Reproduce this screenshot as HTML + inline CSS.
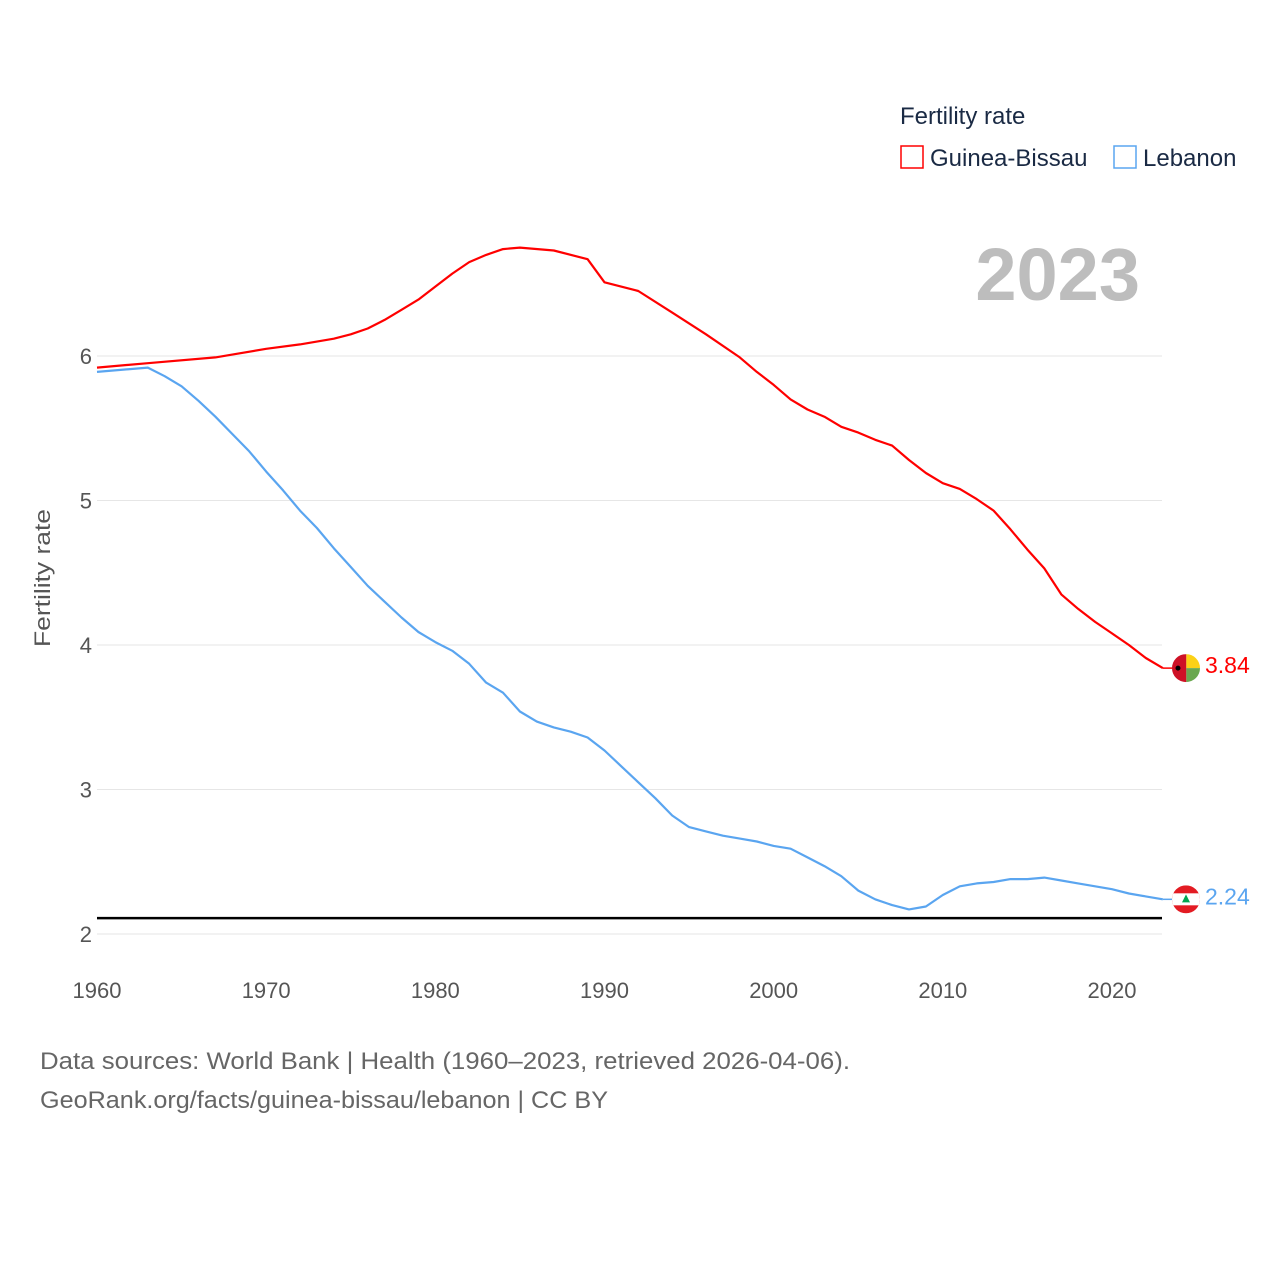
<!DOCTYPE html>
<html><head><meta charset="utf-8"><style>
html,body{margin:0;padding:0;background:#fff;width:1280px;height:1280px;overflow:hidden;font-family:"Liberation Sans",sans-serif}
</style></head><body>
<svg id="chart" width="1280" height="1280" xmlns="http://www.w3.org/2000/svg" font-family="Liberation Sans, sans-serif">
<g id="grid"></g>
<g id="yticks"></g>
<g id="xticks"></g>
<text transform="translate(50,578) rotate(-90)" text-anchor="middle" font-size="22" fill="#555" textLength="138" lengthAdjust="spacingAndGlyphs">Fertility rate</text>
<text x="1140" y="300" text-anchor="end" font-size="74" font-weight="bold" fill="#bdbdbd">2023</text>
<g>
<text x="900" y="124" font-size="24" fill="#1a2a44">Fertility rate</text>
<g><rect x="901" y="146" width="22" height="22" fill="none" stroke="#f00" stroke-width="1.5"/><text x="930" y="166" font-size="24" fill="#1a2a44">Guinea-Bissau</text></g>
<g><rect x="1114" y="146" width="22" height="22" fill="none" stroke="#5aa5f0" stroke-width="1.5"/><text x="1143" y="166" font-size="24" fill="#1a2a44">Lebanon</text></g>
</g>
<line id="refline" stroke="#000" stroke-width="2.5"/>
<g id="series"></g>
<g id="ends"></g>
<text x="40" y="1069" font-size="24" fill="#666" textLength="810" lengthAdjust="spacingAndGlyphs">Data sources: World Bank | Health (1960–2023, retrieved 2026-04-06).</text>
<text x="40" y="1108" font-size="24" fill="#666" textLength="568" lengthAdjust="spacingAndGlyphs">GeoRank.org/facts/guinea-bissau/lebanon | CC BY</text>
</svg>
<script>
const gbYears=[1960,1963,1967,1968,1970,1972,1974,1975,1976,1977,1978,1979,1980,1981,1982,1983,1984,1985,1987,1989,1990,1992,1994,1996,1998,1999,2000,2001,2002,2003,2004,2005,2006,2007,2008,2009,2010,2011,2012,2013,2014,2015,2016,2017,2018,2019,2020,2021,2022,2023];
const gbValues=[5.92,5.95,5.99,6.01,6.05,6.08,6.12,6.15,6.19,6.25,6.32,6.39,6.48,6.57,6.65,6.70,6.74,6.75,6.73,6.67,6.51,6.45,6.30,6.15,5.99,5.89,5.80,5.70,5.63,5.58,5.51,5.47,5.42,5.38,5.28,5.19,5.12,5.08,5.01,4.93,4.80,4.66,4.53,4.35,4.25,4.16,4.08,4.00,3.91,3.84];
const lbYears=[1960,1963,1964,1965,1966,1967,1968,1969,1970,1971,1972,1973,1974,1975,1976,1977,1978,1979,1980,1981,1982,1983,1984,1985,1986,1987,1988,1989,1990,1991,1992,1993,1994,1995,1996,1997,1998,1999,2000,2001,2002,2003,2004,2005,2006,2007,2008,2009,2010,2011,2012,2013,2014,2015,2016,2017,2018,2019,2020,2021,2022,2023];
const lbValues=[5.89,5.92,5.86,5.79,5.69,5.58,5.46,5.34,5.20,5.07,4.93,4.81,4.67,4.54,4.41,4.30,4.19,4.09,4.02,3.96,3.87,3.74,3.67,3.54,3.47,3.43,3.40,3.36,3.27,3.16,3.05,2.94,2.82,2.74,2.71,2.68,2.66,2.64,2.61,2.59,2.53,2.47,2.40,2.30,2.24,2.20,2.17,2.19,2.27,2.33,2.35,2.36,2.38,2.38,2.39,2.37,2.35,2.33,2.31,2.28,2.26,2.24];
const yTicks=[2,3,4,5,6];
const xTicks=[1960,1970,1980,1990,2000,2010,2020];
const replacementRate=2.11;
const x=v=>97+(v-1960)*(1112-97)/60;
const y=v=>934-(v-2)*144.5;
const NS="http://www.w3.org/2000/svg";
function mk(tag,parent,attrs){const e=document.createElementNS(NS,tag);for(const k in attrs)e.setAttribute(k,attrs[k]);parent.appendChild(e);return e;}
const grid=document.getElementById('grid'),yt=document.getElementById('yticks'),xt=document.getElementById('xticks');
yTicks.forEach(t=>{
 const l=mk('line',grid,{x1:97,x2:1162,y1:y(t),y2:y(t),stroke:'#e6e6e6','stroke-width':1});
 
 
 const tx=mk('text',yt,{x:92,y:y(t)+8,'text-anchor':'end','font-size':22,fill:'#555'});tx.textContent=t;
 
 
});
xTicks.forEach(t=>{
 const tx=mk('text',xt,{x:x(t),y:998,'text-anchor':'middle','font-size':22,fill:'#555'});tx.textContent=t;
 
 
});
const rl=document.getElementById('refline');
rl.setAttribute('x1',97);rl.setAttribute('x2',1162);rl.setAttribute('y1',y(replacementRate));rl.setAttribute('y2',y(replacementRate));
const sg=document.getElementById('series'),eg=document.getElementById('ends');
function series(xs,vs,color,name){
 const p=mk('path',sg,{d:xs.map((yr,i)=>(i?'L':'M')+x(yr).toFixed(1)+','+y(vs[i]).toFixed(1)).join(''),fill:'none',stroke:color,'stroke-width':2.2,'stroke-linejoin':'round'});
 
 
 const lx=x(xs[xs.length-1]),lv=vs[vs.length-1];
 mk('line',eg,{x1:lx,x2:1176,y1:y(lv),y2:y(lv),stroke:color,'stroke-width':1.5});
 const t=mk('text',eg,{x:1205,y:y(lv)+5,'font-size':23,fill:color});t.textContent=lv.toFixed(2);
 
 
 return y(lv);
}
const gy=series(gbYears,gbValues,'#ff0000','guinea-bissau');
const ly=series(lbYears,lbValues,'#5aa5f0','lebanon');
const cx=1186,r=14;
const fg=mk('g',eg,{});


const cp1=mk('clipPath',fg,{id:'c1'});mk('circle',cp1,{cx:cx,cy:gy,r:r});
const g1=mk('g',fg,{'clip-path':'url(#c1)'});
mk('rect',g1,{x:cx-r,y:gy-r,width:r*2/3+5,height:2*r,fill:'#ce1126'});
mk('rect',g1,{x:cx-r+r*2/3+5,y:gy-r,width:2*r,height:r,fill:'#fcd116'});
mk('rect',g1,{x:cx-r+r*2/3+5,y:gy,width:2*r,height:r,fill:'#6aa84f'});
mk('circle',g1,{cx:cx-8,cy:gy,r:2.5,fill:'#000'});
const lg=mk('g',eg,{});


const cp=mk('clipPath',lg,{id:'c2'});mk('circle',cp,{cx:cx,cy:ly,r:r});
const g2=mk('g',lg,{'clip-path':'url(#c2)'});
mk('rect',g2,{x:cx-r,y:ly-r,width:2*r,height:2*r,fill:'#e31b23'});
mk('rect',g2,{x:cx-r,y:ly-6,width:2*r,height:12,fill:'#fff'});
mk('polygon',g2,{points:`${cx},${ly-5} ${cx-4},${ly+3} ${cx+4},${ly+3}`,fill:'#00a651'});
</script>
</body></html>
